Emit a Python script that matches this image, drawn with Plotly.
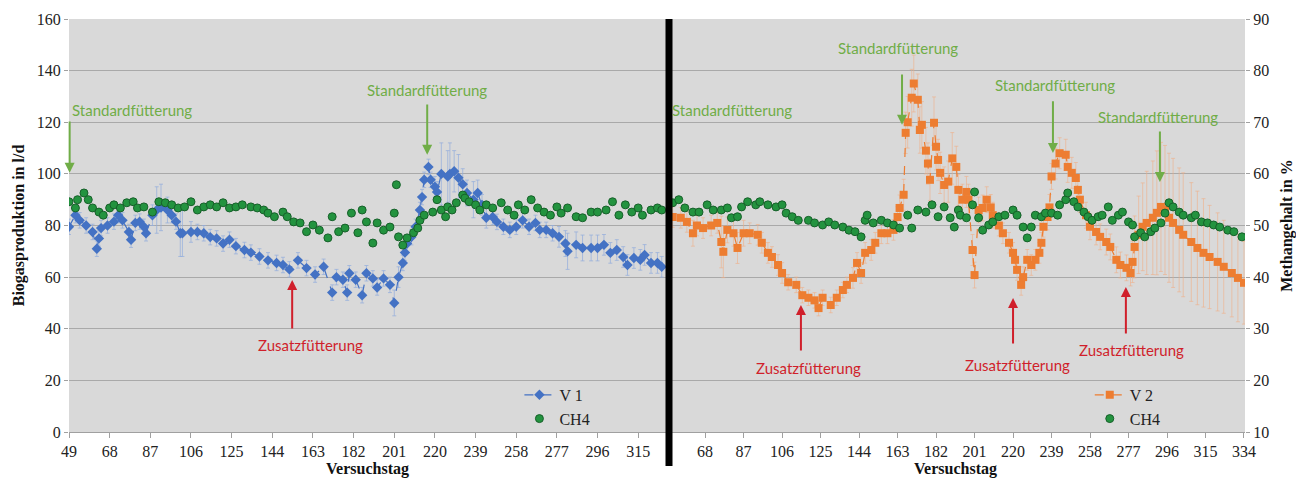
import plotly.graph_objects as go

# ---------------- data ----------------
v1_days = [49,52,54,57,60,62,63,64,67,70,72,74,77,78,80,82,84,85,88,90,92,95,97,99,101,102,106,109,112,115,118,121,124,127,131,134,138,142,146,149,152,156,160,164,168,172,174,177,179,180,183,186,188,191,193,196,199,201,203,205,206,207,209,211,213,214,215,217,218,220,221,223,226,227,229,231,233,235,238,240,242,244,247,249,252,255,258,261,264,267,269,272,275,278,281,282,286,289,293,296,299,302,305,308,310,313,316,318,321,324,326]
v1_vals = [79.5,84,82,80,77.5,71,75,79,80,81.5,84,82,77.5,74.5,81,81.5,79.5,77,84,86,87,86,84,81.5,77,77,77.5,77.5,77,75.5,75,73,74.5,72,70.5,69.5,68,66.5,65.5,64.7,63,66.5,63.5,61,64,54,60,59,54,61.5,59,53,61.5,59.5,56,59.5,57,50,60,65.5,69.5,73,75.5,79.5,86,91,97.7,102.7,97.7,95,93,100,99,100,101,98.5,96,92.6,90,92.6,88,83,83.3,81.4,79.5,78.3,79.5,82,79.5,81,78.3,78.3,77,75.6,73,70,72.5,71.3,71.3,71.3,72.5,69.4,70.5,67.8,64.7,67.4,66.7,68.6,65.5,65.5,64]
v1_err = [3,3,3,3,3,3,3,3,3,3,3,3,3,3,3,3,3,3,4,9,9,5,3,3,9,9,4,3,3,3,3,3,3,3,3,3,3,3,3,3,3,3,3,3,3,3,3,3,3,3,3,3,3,3,3,3,3,5,4,3,3,3,3,3,3,3,3,3,3,4,4,12,10,12,8,9,6,5,7,5,4,4,3,3,3,3,3,3,3,3,3,3,3,4,5,7,5,5,5,5,4,4,4,4,4,4,4,4,4,4,4]

ch4a_days = [49,52,53,56,58,60,63,65,68,70,73,76,79,81,84,88,91,94,97,100,103,106,109,112,115,118,121,124,127,130,134,137,140,142,145,149,151,154,157,160,163,166,170,172,175,178,181,184,186,188,191,193,196,199,201,202,203,205,207,210,212,213,215,219,221,223,225,226,228,230,233,234,236,239,241,244,247,251,254,257,259,262,265,268,271,274,277,279,282,286,289,293,296,300,303,306,309,312,315,317,321,324,326]
ch4a_vals = [54.6,53.4,55,56.3,55,53.4,52.6,52,53.4,54,53.4,54.4,54.6,53.4,53.6,52.6,54.6,54.4,54,53.4,53.6,54.6,53,53.6,54,53.6,54.4,53.4,53.6,54,53.6,53.4,53,52.4,51.7,52.6,51.7,50.7,50.5,48.8,50.1,49.1,47.6,51.7,48.8,49.5,52.4,48.6,53,50.7,46.6,50.5,49.1,49.7,52.4,57.9,47.8,46.2,47.6,48.6,49.5,51,52,52.6,55,53,51.7,53.6,53,54.4,55.9,55.3,54.6,54,53,54,53.4,54.4,53,52,54,53,55,53.4,52.6,52,53.6,52.4,53.4,51.7,51.5,52.6,52.6,53,54.6,52,54,52.6,53.4,52,53,53.4,53]

v2_days = [49,52,56,59,62,64,67,71,74,76,77,79,82,84,87,90,94,96,99,101,104,106,109,113,116,119,122,124,126,130,133,136,138,141,143,145,147,150,152,155,158,161,163,164,166,167,168,170,171,173,174,175,177,178,179,181,182,183,184,186,188,190,192,193,195,197,198,200,201,203,205,207,209,210,213,215,218,220,221,222,224,225,227,229,231,233,234,235,237,238,239,241,243,246,247,249,251,252,253,256,258,261,263,266,268,271,273,276,278,279,280,282,284,286,289,291,293,295,297,299,302,304,308,311,314,317,321,324,328,331,334]
v2_vals = [83,83.3,83,81.4,77,80,79,80,81,73.6,69.8,78.3,77,71.3,77,77,76.4,73.3,69.4,67.8,64.7,61.6,58,57,53,52,51,48,52,49.2,52,55,57,59.7,65.5,61.6,69.4,70.5,73.3,77,77,78.3,83.3,86.8,91.9,115.9,120,129.5,135,128.7,117,119,109,104,97.7,119.8,110.5,105.4,100.4,95.7,97,106,102.7,93.8,90,93,90,70.5,60.8,86,86.8,90,87,84,80,77,73.3,69.4,66.7,62.8,57,60,66.7,64.7,66.7,69.4,73.3,79.5,83.3,87,99,104,108,107.4,102.7,100.4,98.4,93.8,90,84,79.5,77.5,75.6,73.6,71.7,66.7,64.7,63.6,61.6,65.9,71.7,76.4,79.5,81,83,84.9,87.2,86,83,81,78.3,76.4,73.6,71.3,69.4,67.8,65.9,64,61.6,59.7,57.8]
v2_err = [4,4,4,4,5,4,4,4,4,10,10,5,5,6,5,4,4,4,4,4,4,4,3,3,3,3,3,3,3,3,3,3,3,4,4,4,4,4,4,4,4,4,4,5,6,8,10,11,11,10,9,9,9,8,8,10,9,8,8,7,8,10,8,6,6,6,6,6,5,5,5,5,5,5,4,4,4,4,4,4,4,4,4,4,4,4,4,4,5,5,5,6,6,6,6,6,6,5,5,5,5,5,5,5,5,5,5,5,5,8,12,15,17,20,22,24,25,25,25,25,24,24,23,22,21,20,19,18,17,17,16]

ch4b_days = [49,52,55,58,62,65,69,72,76,79,81,84,86,89,93,95,99,103,106,108,111,114,119,122,126,129,132,136,139,142,145,147,148,151,155,158,161,164,168,170,173,177,180,183,186,189,191,193,194,197,200,201,203,205,208,210,213,216,220,222,225,227,229,231,234,236,239,242,243,246,247,250,252,255,257,259,262,264,267,269,272,274,277,279,280,283,285,288,290,293,295,297,299,302,304,308,310,313,316,319,322,326,329,333]
ch4b_vals = [54.5,54.4,55,53.4,52.6,52.6,54,53,53,53.4,51.5,51.7,53.6,54.6,54,54.6,54,53.6,54,52.4,51.7,51,51,50.5,50.1,50.7,50.1,49.7,49.1,48.8,47.8,51,52,50.5,51,50.5,50.1,49.5,52,49.5,53,52.6,54,51.7,53.6,51.5,49.7,53,52,51.5,54,56.5,51.5,49.1,50.1,50.7,51.7,52,53,52,49.7,47.6,49.7,52,51.7,52.4,52.4,52,54,55,56.3,54.6,53.6,52.6,51.7,51,51.7,52,53.6,51,52,52.6,50.7,50.1,47.8,48.6,47.8,48.8,49.5,50.5,52.4,54.4,53.6,52.6,52,51.5,52,50.7,50.5,50.1,49.7,49.1,48.8,47.8]

left_ticks = [49,68,87,106,125,144,163,182,201,220,239,258,277,296,315]
right_ticks = [68,87,106,125,144,163,182,201,220,239,258,277,296,315,334]

# ---------------- styling ----------------
BLUE = "#4472c4"
ORANGE = "#ed7d31"
GREEN = "#23933f"
GREEN_D = "#17602a"
TXT_GREEN = "#70ad47"
TXT_RED = "#d01f2b"
BG = "#d9d9d9"
GRID = "#a9a9a9"
SERIF = "Liberation Serif"
SANS = "Lato"

fig = go.Figure()

fig.add_trace(go.Scatter(
    x=v1_days, y=v1_vals, name="V 1", xaxis="x", yaxis="y",
    mode="lines+markers",
    line=dict(color=BLUE, width=1.2, dash="dash"),
    marker=dict(symbol="diamond", size=8, color=BLUE),
    error_y=dict(type="data", array=v1_err, color="rgba(150,175,220,0.75)", thickness=1, width=2),
    legend="legend"))
fig.add_trace(go.Scatter(
    x=ch4a_days, y=ch4a_vals, name="CH4", xaxis="x", yaxis="y2",
    mode="markers",
    marker=dict(symbol="circle", size=8, color=GREEN, line=dict(color=GREEN_D, width=1)),
    legend="legend"))
fig.add_trace(go.Scatter(
    x=v2_days, y=v2_vals, name="V 2", xaxis="x2", yaxis="y3",
    mode="lines+markers",
    line=dict(color=ORANGE, width=1.2, dash="dash"),
    marker=dict(symbol="square", size=8, color=ORANGE),
    error_y=dict(type="data", array=v2_err, color="rgba(240,175,135,0.6)", thickness=1, width=2),
    legend="legend2"))
fig.add_trace(go.Scatter(
    x=ch4b_days, y=ch4b_vals, name="CH4", xaxis="x2", yaxis="y4",
    mode="markers",
    marker=dict(symbol="circle", size=8, color=GREEN, line=dict(color=GREEN_D, width=1)),
    legend="legend2"))

# page body has an 8px margin -> figure is 1296x474, plot area 1176x413
PW, PH = 1176.0, 413.0
split = (666 - 69) / PW

tickfont = dict(family=SERIF, size=16, color="#222")
titlefont = dict(family=SERIF, size=16, color="#111", weight="bold")

xcommon = dict(showgrid=False, showline=True, linecolor="#a0a0a0", linewidth=1,
               ticks="outside", ticklen=5, tickcolor="#a0a0a0", tickfont=tickfont,
               zeroline=False, tickmode="array", automargin=False)

fig.update_layout(
    width=1296, height=474,
    margin=dict(l=61, r=59, t=11, b=50, autoexpand=False),
    paper_bgcolor="white", plot_bgcolor=BG,
    showlegend=True,
    xaxis=dict(domain=[0, split], range=[49, 328], anchor="y", tickvals=left_ticks,
               title=dict(text="Versuchstag", font=titlefont, standoff=2), **xcommon),
    xaxis2=dict(domain=[split, 1], range=[48.7, 334.5], anchor="y3", tickvals=right_ticks,
                title=dict(text="Versuchstag", font=titlefont, standoff=2), **xcommon),
    yaxis=dict(domain=[0, 1], range=[0, 160], dtick=20, anchor="x", automargin=False,
               showgrid=True, gridcolor=GRID, gridwidth=1, zeroline=False,
               ticks="outside", ticklen=4, tickcolor="#a0a0a0", tickfont=tickfont,
               title=dict(text="Biogasproduktion in l/d", font=titlefont, standoff=8)),
    yaxis2=dict(range=[10, 90], overlaying="y", side="right", anchor="x",
                visible=False, showgrid=False, automargin=False),
    yaxis3=dict(domain=[0, 1], range=[0, 160], dtick=20, anchor="x2", automargin=False,
                showgrid=True, gridcolor=GRID, gridwidth=1, zeroline=False,
                showticklabels=False, ticks=""),
    yaxis4=dict(range=[10, 90], dtick=10, overlaying="y3", side="right", anchor="x2",
                showgrid=False, zeroline=False, ticks="outside", ticklen=4, automargin=False,
                tickcolor="#a0a0a0", tickfont=tickfont,
                title=dict(text="Methangehalt in %", font=titlefont, standoff=12)),
    legend=dict(x=0.383, y=0.131, xanchor="left", yanchor="top",
                bgcolor="rgba(0,0,0,0)", font=dict(family=SERIF, size=16, color="#222"),
                tracegroupgap=0, itemwidth=30),
    legend2=dict(x=0.868, y=0.131, xanchor="left", yanchor="top",
                 bgcolor="rgba(0,0,0,0)", font=dict(family=SERIF, size=16, color="#222"),
                 tracegroupgap=0, itemwidth=30),
)

# black divider between the two charts
fig.add_shape(type="line", xref="paper", yref="paper",
              x0=(669 - 69) / PW, x1=(669 - 69) / PW, y0=1, y1=-34 / PH,
              line=dict(color="black", width=7), layer="above")

annfont_g = dict(family=SANS, size=15, color=TXT_GREEN)
annfont_r = dict(family=SANS, size=15, color=TXT_RED)

def text(xr, yr, x, y, s, font, xanchor="center"):
    fig.add_annotation(xref=xr, yref=yr, x=x, y=y, text=s, showarrow=False,
                       font=font, xanchor=xanchor, yanchor="middle")

def arrow(xr, yr, x, y_tail, y_head, color):
    fig.add_annotation(xref=xr, yref=yr, x=x, y=y_head, ax=x, ay=y_tail,
                       axref=xr, ayref=yr, text="", showarrow=True,
                       arrowhead=2, arrowsize=1, arrowwidth=2, arrowcolor=color)

# left chart
text("x", "y", 49.5, 124.8, "Standardfütterung", annfont_g, xanchor="left")
arrow("x", "y", 49.3, 120.9, 100.4, TXT_GREEN)
text("x", "y", 216.4, 132.6, "Standardfütterung", annfont_g)
arrow("x", "y", 216.4, 127.5, 107.4, TXT_GREEN)
text("x", "y", 162, 33.7, "Zusatzfütterung", annfont_r)
arrow("x", "y", 153.3, 39.5, 58.9, TXT_RED)

# right chart
text("x2", "y3", 50.7, 124.8, "Standardfütterung", annfont_g, xanchor="left")
text("x2", "y3", 163.2, 148.8, "Standardfütterung", annfont_g)
arrow("x2", "y3", 165.2, 139.1, 119.0, TXT_GREEN)
text("x2", "y3", 240.7, 134.5, "Standardfütterung", annfont_g)
arrow("x2", "y3", 239.7, 128.7, 108.1, TXT_GREEN)
text("x2", "y3", 291.5, 122.0, "Standardfütterung", annfont_g)
arrow("x2", "y3", 292.5, 117.0, 96.9, TXT_GREEN)
text("x2", "y3", 118.8, 24.8, "Zusatzfütterung", annfont_r)
arrow("x2", "y3", 115.3, 31.0, 49.2, TXT_RED)
text("x2", "y3", 222.0, 26.0, "Zusatzfütterung", annfont_r)
arrow("x2", "y3", 220.0, 33.7, 51.9, TXT_RED)
text("x2", "y3", 278.7, 31.8, "Zusatzfütterung", annfont_r)
arrow("x2", "y3", 275.7, 37.6, 56.2, TXT_RED)

fig.write_html("out.html")
